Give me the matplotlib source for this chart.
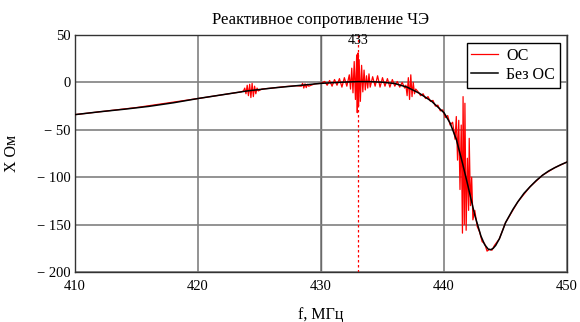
import matplotlib
matplotlib.use("Agg")
import matplotlib.pyplot as plt
from matplotlib.ticker import FuncFormatter

# Curve without feedback ("Без ОС"): frequency (MHz) and reactance (Ohm)
f_base = [410, 412, 414, 416, 418, 420, 422, 424, 426, 428, 430, 432, 433, 434,
          435, 436, 437, 438, 439, 440, 440.5, 441, 441.5, 442, 442.5, 443,
          443.3, 443.6, 443.8, 444, 444.2, 444.5, 444.8, 445, 445.3, 445.6, 446,
          446.5, 447, 447.5, 448, 448.5, 449, 449.5, 450]
x_base = [-34, -31, -28.3, -25.3, -21.5, -17, -13, -9, -6, -3.5, -1, 0.4, 0.8, 0.8,
          0.2, -1.2, -5, -11.5, -20, -32, -43, -60, -85, -112, -140, -162,
          -171, -176, -176.5, -175, -172, -165, -155, -148, -141, -134, -126,
          -117, -110, -103.5, -98, -93.5, -90, -86.8, -84]

# Curve with feedback ("ОС"), noisy bursts
f_fb = [410, 415, 420, 423.5, 423.7, 423.8, 423.9, 424.0, 424.1, 424.2, 424.3, 424.4,
        424.5, 424.6, 424.7, 424.8, 424.9, 425.2, 426, 427, 428, 428.4, 428.5, 428.6,
        428.7, 428.8, 428.9, 429.0, 429.5, 430, 430.3, 430.5, 430.7, 430.9, 431.1,
        431.3, 431.5, 431.7, 431.9, 432.1, 432.3, 432.4, 432.5, 432.6, 432.7, 432.8,
        432.9, 432.95, 433.0, 433.05, 433.1, 433.2, 433.3, 433.4, 433.5, 433.6, 433.7,
        433.8, 433.9, 434.0, 434.2, 434.4, 434.6, 434.8, 435.0, 435.2, 435.4, 435.6,
        435.8, 436.0, 436.2, 436.4, 436.6, 436.8, 436.9, 437.0, 437.1, 437.2, 437.3,
        437.4, 437.5, 437.6, 437.7, 437.9, 438.1, 438.3, 438.5, 438.7, 438.9, 439.1,
        439.3, 439.5, 439.7, 439.9, 440.1, 440.3, 440.5, 440.7, 440.9, 441.0, 441.1,
        441.2, 441.3, 441.4, 441.5, 441.55, 441.65, 441.7, 441.8, 441.9, 442.0,
        442.05, 442.15, 442.25, 442.35, 442.5, 442.7, 442.9, 443.1, 443.3, 443.5,
        443.7, 443.9, 444.1, 444.5, 445, 446, 447, 448, 449, 450]
x_fb = [-34, -26.5, -17, -10, -9, -6, -12, -3, -14, -2, -16, -1,
        -15, -4, -12, -6, -9, -7, -6, -4.5, -3.5, -4, -1, -6,
        -1.5, -5.5, -2, -4, -1.5, -1, 1, -3, 2, -4, 3,
        -3, 4, -5, 5, -4, 8, -7, 15, -11, 22, -18,
        29, -32, 31, -25, 24, -20, 18, -10, 13, -8, 7,
        -6, 9, -5, 6, -4, 7, -5, 5, -4, 4, -5,
        3, -4, 1, -5, 0, -6, -3, -14, 5, -18, 8,
        -15, 0, -12, -7, -10, -14, -12, -17, -15, -20, -19,
        -25, -24, -30, -29, -37, -35, -45, -42, -60, -36, -82,
        -40, -113, -45, -159, -15, -150, -22, -156, -80, -135,
        -59, -130, -100, -145, -135, -152, -158, -168, -170, -178,
        -176, -177, -172, -165, -148, -126, -110, -98, -90, -84]

marker_f = 433
x_ticks = [410, 420, 430, 440, 450]
y_ticks = [-200, -150, -100, -50, 0, 50]

plt.rcParams['font.family'] = ['Liberation Serif', 'DejaVu Serif']

fig = plt.figure(figsize=(5.8, 3.22), dpi=100)
ax = fig.add_axes([0.1293, 0.1553, 0.8483, 0.736])

ax.plot(f_fb, x_fb, color='#ff0000', linewidth=0.9, label='ОС', zorder=3)
ax.plot(f_base, x_base, color='black', linewidth=1.1, label='Без ОС', zorder=4)

# Marker line with its value on top
ax.axvline(marker_f, color='#ff0000', linestyle=(0, (2, 2)), linewidth=0.9, zorder=2)
ax.text(marker_f, 44, f"{marker_f}", ha='center', va='center', fontsize=10, zorder=5)

ax.set_xlim(410, 450)
ax.set_ylim(-200, 50)
ax.set_xticks(x_ticks)
ax.set_yticks(y_ticks)
ax.yaxis.set_major_formatter(FuncFormatter(
    lambda v, p: f"\u2212 {abs(int(v))}" if v < 0 else f"{int(v)}"))
ax.grid(True, color='#808080', linewidth=1.2, zorder=0)
ax.axvline(430, color='black', linewidth=0.9, zorder=1)
ax.tick_params(length=0, labelsize=10.5)
ax.tick_params(axis='x', pad=6)
ax.tick_params(axis='y', pad=3)
for s in ax.spines.values():
    s.set_color('#333333')
    s.set_linewidth(1.0)

ax.set_title("Реактивное сопротивление ЧЭ", fontsize=12, pad=8)
ax.set_xlabel("f, МГц", fontsize=11.5, labelpad=10)
ax.set_ylabel("X Ом", fontsize=11.5, labelpad=12)

leg = ax.legend(loc='upper right', bbox_to_anchor=(0.986, 0.966), fontsize=11.5,
                fancybox=False, framealpha=1.0, edgecolor='black',
                handlelength=1.7, handletextpad=0.5, borderpad=0.3,
                labelspacing=0.2, borderaxespad=0)
leg.get_frame().set_linewidth(1.0)

plt.savefig("out.png", dpi=100)
